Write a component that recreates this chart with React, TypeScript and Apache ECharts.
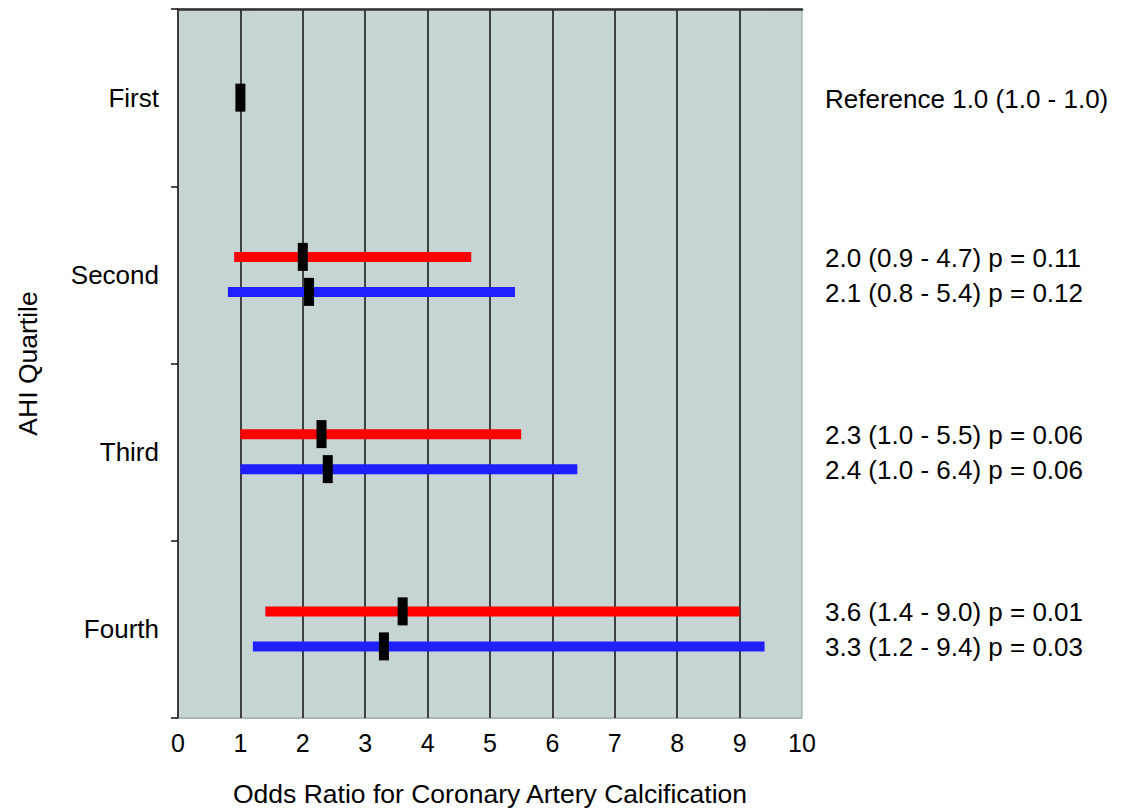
import React, { useEffect, useRef } from "react";
import * as echarts from "echarts";

const quartiles = ["First", "Second", "Third", "Fourth"];
const xTicks = [0, 1, 2, 3, 4, 5, 6, 7, 8, 9, 10];

const referenceOR = 1.0;
const referenceLower = 1.0;
const referenceUpper = 1.0;

// Red series (Second, Third, Fourth)
const redOR = [2.0, 2.3, 3.6];
const redLower = [0.9, 1.0, 1.4];
const redUpper = [4.7, 5.5, 9.0];
const redP = ["0.11", "0.06", "0.01"];

// Blue series (Second, Third, Fourth)
const blueOR = [2.1, 2.4, 3.3];
const blueLower = [0.8, 1.0, 1.2];
const blueUpper = [5.4, 6.4, 9.4];
const blueP = ["0.12", "0.06", "0.03"];

const FONT = "'Liberation Sans', Arial, Helvetica, sans-serif";

export default function App() {
  const ref = useRef<HTMLDivElement>(null);

  useEffect(() => {
    if (!ref.current) return;
    const chart = echarts.init(ref.current, undefined, { renderer: "svg" });

    const fmt = (v: number) => v.toFixed(1);

    const makeRender = (color: string, offset: number, showBar: boolean) =>
      (params: any, api: any) => {
        const lo = api.value(0);
        const hi = api.value(1);
        const est = api.value(2);
        const cat = api.value(3);
        const p = api.value(4);
        const c0 = api.coord([lo, cat]);
        const c1 = api.coord([hi, cat]);
        const ce = api.coord([est, cat]);
        const y = c0[1] + offset;
        const cs = params.coordSys;
        const rightX = cs.x + cs.width;
        const children: any[] = [];
        if (showBar) {
          children.push({
            type: "rect",
            shape: { x: c0[0], y: y - 5, width: c1[0] - c0[0], height: 10 },
            style: { fill: color },
          });
        }
        children.push({
          type: "rect",
          shape: { x: ce[0] - 5, y: y - 14, width: 10, height: 28 },
          style: { fill: "#000" },
        });
        const text = showBar
          ? `${fmt(est)} (${fmt(lo)} - ${fmt(hi)}) p = ${p}`
          : `Reference ${fmt(est)} (${fmt(lo)} - ${fmt(hi)})`;
        children.push({
          type: "text",
          style: {
            text,
            x: rightX + 23,
            y: y + 1,
            fill: "#000",
            fontSize: 26,
            fontFamily: FONT,
            align: "left",
            verticalAlign: "middle",
          },
        });
        return { type: "group", children };
      };

    const redData = redOR.map((v, i) => [redLower[i], redUpper[i], v, i + 1, redP[i]]);
    const blueData = blueOR.map((v, i) => [blueLower[i], blueUpper[i], v, i + 1, blueP[i]]);
    const refData = [[referenceLower, referenceUpper, referenceOR, 0, ""]];

    chart.setOption({
      animation: false,
      textStyle: { fontFamily: FONT },
      grid: {
        left: 178,
        right: 323,
        top: 9,
        bottom: 90,
        show: true,
        backgroundColor: "#c6d4d4",
        borderColor: "#8f9d9d",
        borderWidth: 1,
      },
      xAxis: [
        {
          type: "value",
          min: xTicks[0],
          max: xTicks[xTicks.length - 1],
          interval: 1,
          position: "bottom",
          axisLine: { show: true, lineStyle: { color: "#a9b5b5", width: 1 } },
          axisTick: { show: false },
          axisLabel: { color: "#000", fontSize: 25, margin: 12, fontFamily: FONT },
          splitLine: {
            show: true,
            showMinLine: false,
            showMaxLine: false,
            lineStyle: { color: "#111", width: 1.5 },
          },
          name: "Odds Ratio for Coronary Artery Calcification",
          nameLocation: "middle",
          nameGap: 62,
          nameTextStyle: { color: "#000", fontSize: 26.5, fontFamily: FONT },
        },
        {
          type: "value",
          min: 0,
          max: 10,
          position: "top",
          axisLine: { show: true, lineStyle: { color: "#333", width: 2.5 } },
          axisTick: { show: false },
          axisLabel: { show: false },
          splitLine: { show: false },
        },
      ],
      yAxis: {
        type: "category",
        data: quartiles,
        inverse: true,
        boundaryGap: true,
        axisLine: { show: true, lineStyle: { color: "#111", width: 1.5 } },
        axisTick: { show: true, inside: false, length: 7, lineStyle: { color: "#111", width: 1.5 } },
        axisLabel: { color: "#000", fontSize: 26, margin: 19, fontFamily: FONT },
        splitLine: { show: false },
        name: "AHI Quartile",
        nameLocation: "middle",
        nameGap: 137,
        nameRotate: 90,
        nameTextStyle: { color: "#000", fontSize: 26.5, fontFamily: FONT },
      },
      series: [
        {
          type: "custom",
          name: "Reference",
          clip: false,
          renderItem: makeRender("#000", 0, false),
          encode: { x: [0, 1, 2], y: 3 },
          data: refData,
        },
        {
          type: "custom",
          name: "Red",
          clip: false,
          renderItem: makeRender("#ff0000", -18, true),
          encode: { x: [0, 1, 2], y: 3 },
          data: redData,
        },
        {
          type: "custom",
          name: "Blue",
          clip: false,
          renderItem: makeRender("#1f1fff", 17, true),
          encode: { x: [0, 1, 2], y: 3 },
          data: blueData,
        },
      ],
    });

    return () => chart.dispose();
  }, []);

  return (
    <div
      ref={ref}
      style={{ position: "fixed", left: 0, top: 0, width: 1125, height: 812, background: "#fff" }}
    />
  );
}
